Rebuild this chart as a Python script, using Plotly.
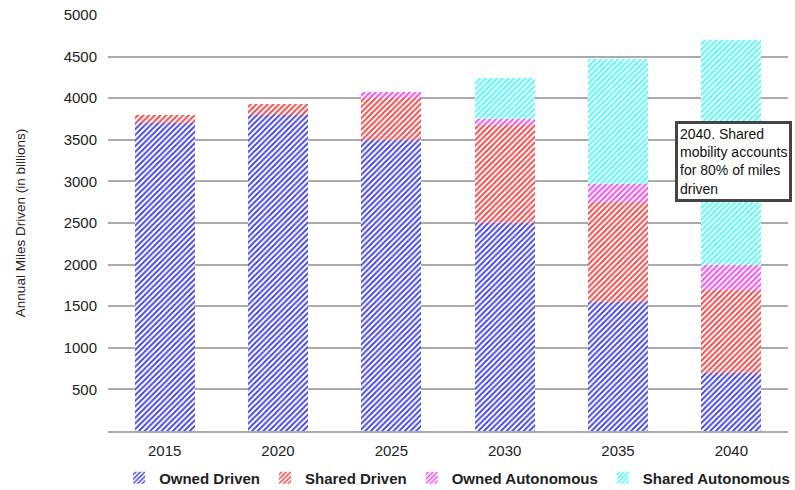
import plotly.graph_objects as go

years = ["2015", "2020", "2025", "2030", "2035", "2040"]
owned_driven = [3700, 3800, 3500, 2500, 1550, 700]
shared_driven = [100, 130, 500, 1180, 1200, 1000]
owned_autonomous = [0, 0, 70, 70, 220, 300]
shared_autonomous = [0, 0, 0, 490, 1500, 2700]
y_ticks = [500, 1000, 1500, 2000, 2500, 3000, 3500, 4000, 4500, 5000]

series = [
    ("Owned Driven", owned_driven, "#3333ff"),
    ("Shared Driven", shared_driven, "#ff3333"),
    ("Owned Autonomous", owned_autonomous, "#ff33ff"),
    ("Shared Autonomous", shared_autonomous, "#33ffff"),
]

fig = go.Figure()
for name, vals, col in series:
    fig.add_trace(go.Bar(
        x=years, y=vals, name=name,
        marker=dict(
            color="white",
            line=dict(width=0),
            pattern=dict(shape="/", fgcolor=col, bgcolor="white",
                         size=4, solidity=0.45, fillmode="replace"),
        ),
    ))

fig.add_annotation(
    x=1.006, xref="paper", xanchor="right", y=3726, yref="y", yanchor="top",
    text="2040. Shared<br>mobility accounts<br>for 80% of miles<br>driven",
    align="left", showarrow=False,
    font=dict(family="Liberation Sans, Arial", size=14, color="#111"),
    bgcolor="white", bordercolor="#444", borderwidth=3, borderpad=2,
)

fig.update_layout(
    width=795, height=490,
    barmode="stack", bargap=0.47,
    plot_bgcolor="white", paper_bgcolor="white",
    margin=dict(l=108, r=7, t=15, b=59, autoexpand=False),
    font=dict(family="Liberation Sans, Arial", size=15, color="#222"),
    yaxis=dict(
        range=[0, 5000], tickvals=y_ticks, showgrid=True,
        gridcolor="#aaaaaa", gridwidth=1.5, zeroline=False,
        title=dict(text="Annual Miles Driven (in billions)", font=dict(size=13.5), standoff=34),
        ticks="", ticklabelstandoff=10,
    ),
    xaxis=dict(showline=True, linecolor="#aaaaaa", linewidth=1.5, ticks="",
               tickfont=dict(size=15), ticklabelstandoff=5),
    legend=dict(orientation="h", x=0.575, xref="container", xanchor="center",
                y=0.0245, yref="container", yanchor="middle",
                font=dict(size=15, color="#222", weight="bold"),
                traceorder="normal", itemwidth=30),
)

fig.write_html("out.html")
